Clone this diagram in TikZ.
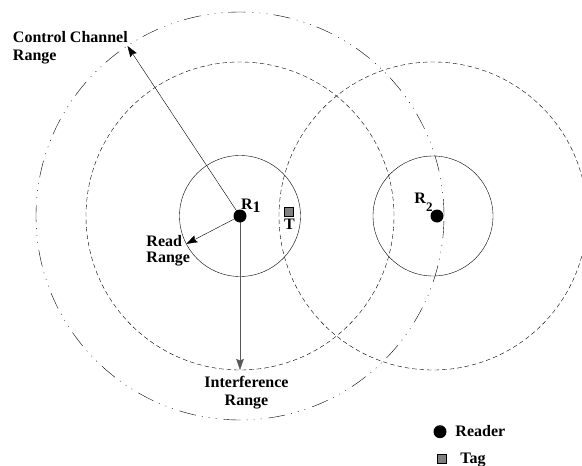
\documentclass[tikz,border=0pt]{standalone}
\usepackage{fontspec}
\setmainfont{Liberation Serif}
\usetikzlibrary{arrows.meta, backgrounds}
\definecolor{tgrey}{HTML}{808080}
\definecolor{agrey}{HTML}{585858}
\tikzset{
  every picture/.style={line width=0.9pt},
  lbl/.style={font=\bfseries\fontsize{16}{18}\selectfont, inner sep=0pt, align=left},
  reader/.style={circle, fill=black, minimum size=13pt, inner sep=0pt},
  tagbox/.style={draw=black, fill=tgrey, line width=0.6pt, minimum size=9.5pt, inner sep=0pt},
  readrange/.style={draw=black},
  intrange/.style={draw=black, dash pattern=on 4.5pt off 3pt},
  ctrlrange/.style={draw=black, dash pattern=on 17pt off 6pt on 1pt off 6pt on 1pt off 6pt on 1pt off 7pt},
  arrow/.style={-{Stealth[length=11pt, width=7.5pt, inset=1.5pt]}, draw=black},
}

\begin{document}
\begin{tikzpicture}[x=1pt, y=-1pt]
  \useasboundingbox (0,0) rectangle (582,466);
  % readers, tag and their labels
  \node[reader] (r1) at (240,216) {};
  \node[reader] (r2) at (437,216) {};
  \coordinate (c2) at (433,216);
  \node[tagbox] (tag) at (289,212) {};
  \node[lbl, anchor=base west] (r1lbl) at (240.7,209.3) {R\raisebox{-3pt}{1}};
  \node[lbl, anchor=base west] (r2lbl) at (414,203.3) {R\raisebox{-8.5pt}{\fontsize{13}{13}\selectfont 2}};
  \node[lbl, anchor=base] (taglbl) at (289.5,229.3) {T};
  % range labels
  \node[lbl, anchor=north west] (ctrllbl) at (12.5,31) {Control Channel\\Range};
  \node[lbl, anchor=north west] (readlbl) at (146,235) {Read\\[-2pt]Range};
  \node[lbl, anchor=north, align=center] (intlbl) at (246.5,375.8) {Interference\\Range};
  % arrow ends on the circles
  \coordinate (ctrlend) at (127.5,46);
  \coordinate (readend) at (186.3,243.9);
  \coordinate (intend) at (240,370);
  % legend
  \node[reader] (keyreader) at (440,431.7) {};
  \node[lbl, anchor=base west] (keyreaderlbl) at (455,436) {Reader};
  \node[tagbox] (keytag) at (441.7,458.7) {};
  \node[lbl, anchor=base west] (keytaglbl) at (460,463.3) {Tag};
  \begin{scope}[on background layer]
    \clip (0,0) rectangle (582,466);
    \draw[readrange] (r1.center) circle[radius=60.5pt];
    \draw[readrange] (c2) circle[radius=60pt];
    \draw[intrange] (r1.center) circle[radius=154pt];
    \draw[intrange] (c2) circle[radius=154pt];
    \draw[ctrlrange] (r1.center) circle[radius=204pt];
    \draw[arrow] (r1.center) -- (ctrlend);
    \draw[arrow] (r1.center) -- (readend);
    \draw[arrow, draw=agrey, fill=agrey] (r1.center) -- (intend);
  \end{scope}
\end{tikzpicture}
\end{document}
